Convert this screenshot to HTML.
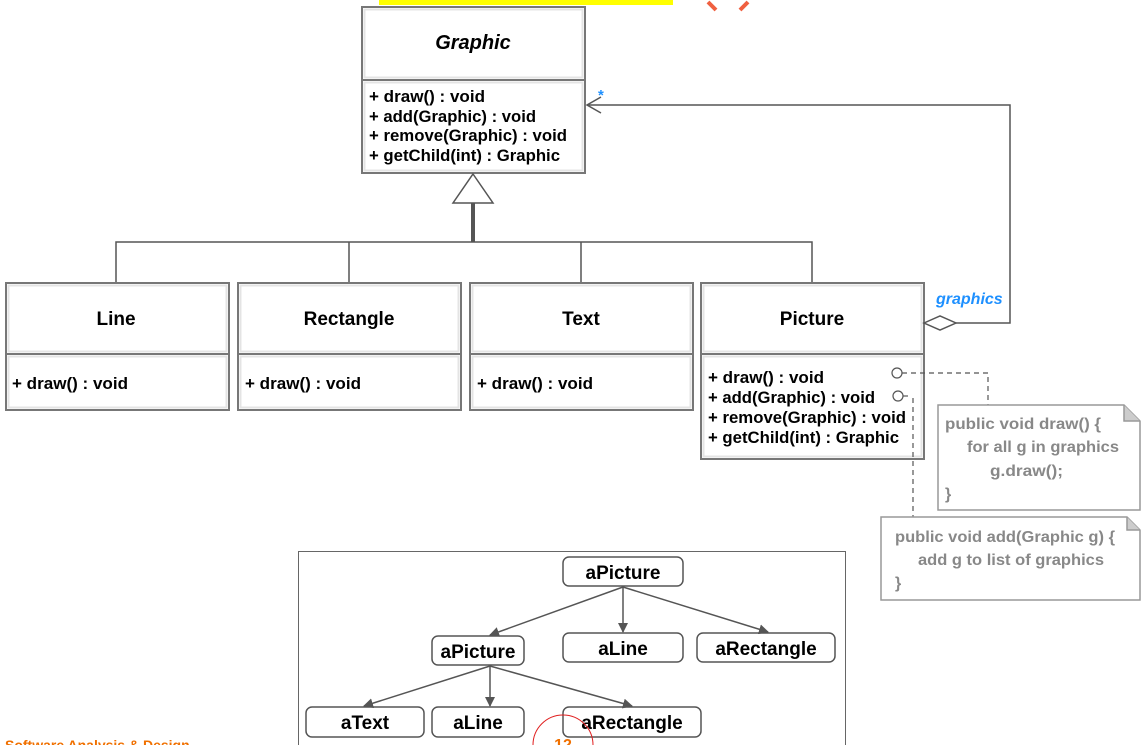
<!DOCTYPE html>
<html><head><meta charset="utf-8"><style>
html,body{margin:0;padding:0;background:#fff;width:1146px;height:745px;overflow:hidden}
svg{display:block}
text{font-family:"Liberation Sans",sans-serif;font-weight:bold}
</style></head><body>
<svg width="1146" height="745" viewBox="0 0 1146 745">
<defs>
<marker id="ah" markerWidth="10" markerHeight="10" refX="9" refY="5" orient="auto" markerUnits="userSpaceOnUse"><path d="M0,0 L10,5 L0,10 z" fill="#555"/></marker>
</defs>
<rect x="379" y="0" width="294" height="5" fill="#ffff00"/>
<path d="M708,2 L716,10 M748,2 L740,10" stroke="#f06040" stroke-width="4"/>

<g stroke="#777" fill="#fff">
<rect x="362" y="7" width="223" height="73" stroke-width="2"/>
<rect x="364.5" y="9.5" width="218" height="68" stroke="#e4e4e4" stroke-width="2" fill="none"/>
<rect x="362" y="80" width="223" height="93" stroke-width="2"/>
<rect x="364.5" y="82.5" width="218" height="88" stroke="#e4e4e4" stroke-width="2" fill="none"/>
<rect x="6" y="283" width="223" height="71" stroke-width="2"/>
<rect x="8.5" y="285.5" width="218" height="66" stroke="#e4e4e4" stroke-width="2" fill="none"/>
<rect x="6" y="354" width="223" height="56" stroke-width="2"/>
<rect x="8.5" y="356.5" width="218" height="51" stroke="#e4e4e4" stroke-width="2" fill="none"/>
<rect x="238" y="283" width="223" height="71" stroke-width="2"/>
<rect x="240.5" y="285.5" width="218" height="66" stroke="#e4e4e4" stroke-width="2" fill="none"/>
<rect x="238" y="354" width="223" height="56" stroke-width="2"/>
<rect x="240.5" y="356.5" width="218" height="51" stroke="#e4e4e4" stroke-width="2" fill="none"/>
<rect x="470" y="283" width="223" height="71" stroke-width="2"/>
<rect x="472.5" y="285.5" width="218" height="66" stroke="#e4e4e4" stroke-width="2" fill="none"/>
<rect x="470" y="354" width="223" height="56" stroke-width="2"/>
<rect x="472.5" y="356.5" width="218" height="51" stroke="#e4e4e4" stroke-width="2" fill="none"/>
<rect x="701" y="283" width="223" height="71" stroke-width="2"/>
<rect x="703.5" y="285.5" width="218" height="66" stroke="#e4e4e4" stroke-width="2" fill="none"/>
<rect x="701" y="354" width="223" height="105" stroke-width="2"/>
<rect x="703.5" y="356.5" width="218" height="100" stroke="#e4e4e4" stroke-width="2" fill="none"/>
</g>

<g fill="#000" font-size="19">
<text x="473" y="49" text-anchor="middle" font-style="italic" font-size="20">Graphic</text>
<text x="116" y="325" text-anchor="middle">Line</text>
<text x="349" y="325" text-anchor="middle">Rectangle</text>
<text x="581" y="325" text-anchor="middle">Text</text>
<text x="812" y="325" text-anchor="middle">Picture</text>
</g>
<g fill="#000" font-size="16.5">
<text x="369" y="102" textLength="116" lengthAdjust="spacingAndGlyphs">+ draw() : void</text>
<text x="369" y="122" textLength="167" lengthAdjust="spacingAndGlyphs">+ add(Graphic) : void</text>
<text x="369" y="141" textLength="198" lengthAdjust="spacingAndGlyphs">+ remove(Graphic) : void</text>
<text x="369" y="161" textLength="191" lengthAdjust="spacingAndGlyphs">+ getChild(int) : Graphic</text>
<text x="12" y="389" textLength="116" lengthAdjust="spacingAndGlyphs">+ draw() : void</text>
<text x="245" y="389" textLength="116" lengthAdjust="spacingAndGlyphs">+ draw() : void</text>
<text x="477" y="389" textLength="116" lengthAdjust="spacingAndGlyphs">+ draw() : void</text>
<text x="708" y="383" textLength="116" lengthAdjust="spacingAndGlyphs">+ draw() : void</text>
<text x="708" y="403" textLength="167" lengthAdjust="spacingAndGlyphs">+ add(Graphic) : void</text>
<text x="708" y="423" textLength="198" lengthAdjust="spacingAndGlyphs">+ remove(Graphic) : void</text>
<text x="708" y="443" textLength="191" lengthAdjust="spacingAndGlyphs">+ getChild(int) : Graphic</text>
</g>

<g stroke="#555" fill="none">
<path d="M473,174 L493,203 L453,203 Z" fill="#fff" stroke-width="1.5"/>
<path d="M473,203 V242" stroke-width="4"/>
<path d="M116,282 V242 H812 V282 M349,242 V282 M581,242 V282" stroke-width="1.5"/>
<path d="M924,323 L940,316 L956,323 L940,330 Z" fill="#fff" stroke-width="1.5"/>
<path d="M956,323 H1010 V105 H587" stroke-width="1.5"/>
<path d="M601,97 L587,105 L601,113" stroke-width="1.5"/>
<circle cx="897" cy="373" r="5" fill="#fff" stroke-width="1.2"/>
<path d="M902,373 H988 V405" stroke-dasharray="5,4" stroke-width="1.2"/>
<circle cx="898" cy="396" r="5" fill="#fff" stroke-width="1.2"/>
<path d="M903,396 H908" stroke-width="1.2"/>
<path d="M913,398 V517" stroke-dasharray="5,4" stroke-width="1.2"/>
</g>
<text x="598" y="100" fill="#1e90ff" font-size="15">*</text>
<text x="936" y="304" fill="#1e90ff" font-size="16" font-style="italic">graphics</text>

<g stroke="#999" stroke-width="1.5" fill="#fff">
<path d="M938,405 H1124 L1140,421 V510 H938 Z"/>
<path d="M1124,405 V421 H1140" fill="#ccc"/>
<path d="M881,517 H1127 L1140,530 V600 H881 Z"/>
<path d="M1127,517 V530 H1140" fill="#ccc"/>
</g>
<g fill="#888" font-size="16">
<text x="945" y="429" textLength="156" lengthAdjust="spacingAndGlyphs">public void draw() {</text>
<text x="967" y="452" textLength="152" lengthAdjust="spacingAndGlyphs">for all g in graphics</text>
<text x="990" y="476" textLength="73" lengthAdjust="spacingAndGlyphs">g.draw();</text>
<text x="945" y="499">}</text>
<text x="895" y="542" textLength="220" lengthAdjust="spacingAndGlyphs">public void add(Graphic g) {</text>
<text x="918" y="565" textLength="186" lengthAdjust="spacingAndGlyphs">add g to list of graphics</text>
<text x="895" y="588">}</text>
</g>

<rect x="298.5" y="551.5" width="547" height="200" fill="none" stroke="#666" stroke-width="1"/>
<g stroke="#555" stroke-width="1.5" fill="#fff">
<rect x="563" y="557" width="120" height="29" rx="6"/>
<rect x="432" y="636" width="92" height="29" rx="6"/>
<rect x="563" y="633" width="120" height="29" rx="6"/>
<rect x="697" y="633" width="138" height="29" rx="6"/>
<rect x="306" y="707" width="118" height="30" rx="6"/>
<rect x="432" y="707" width="92" height="30" rx="6"/>
<rect x="563" y="707" width="138" height="30" rx="6"/>
</g>
<g stroke="#555" stroke-width="1.5" fill="none" marker-end="url(#ah)">
<path d="M623,587 L490,635"/>
<path d="M623,587 V632"/>
<path d="M623,587 L768,632"/>
<path d="M490,666 L364,706"/>
<path d="M490,666 V706"/>
<path d="M490,666 L632,706"/>
</g>
<g fill="#000" font-size="19" text-anchor="middle">
<text x="623" y="579">aPicture</text>
<text x="478" y="658">aPicture</text>
<text x="623" y="655">aLine</text>
<text x="766" y="655">aRectangle</text>
<text x="365" y="729">aText</text>
<text x="478" y="729">aLine</text>
<text x="632" y="729">aRectangle</text>
</g>
<circle cx="563" cy="745" r="30" fill="none" stroke="#e02020" stroke-width="1"/>
<text x="563" y="750" fill="#f07000" font-size="16" text-anchor="middle">12</text>
<text x="5" y="750" fill="#f07000" font-size="14">Software Analysis &amp; Design</text>
</svg>
</body></html>
